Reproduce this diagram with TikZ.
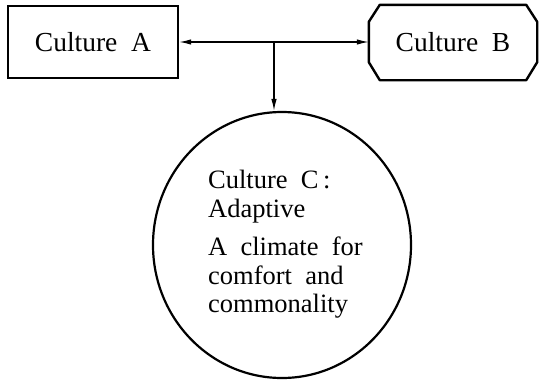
\documentclass[tikz,border=0pt]{standalone}
\usepackage{fontspec}
\setmainfont{Liberation Serif}
\usetikzlibrary{arrows.meta,shapes.geometric}
\begin{document}
\begin{tikzpicture}[x=1pt,y=-1pt,
  boxline/.style={line width=2.4pt},
  conn/.style={line width=1.3pt,-{Latex[length=12pt,width=5.5pt]}},
  lbl/.style={font=\fontsize{27.5}{30}\selectfont},
  clbl/.style={font=\fontsize{26.5}{28.5}\selectfont}
]
\useasboundingbox (0,0) rectangle (540,380);
% Culture A
\node[boxline,draw,rectangle,minimum width=170pt,minimum height=72pt,lbl] (A) at (93,42) {Culture\ \ A};
% Culture B (octagon drawn from an invisible rectangle)
\node[minimum width=168pt,minimum height=75pt,inner sep=0pt,lbl] (B) at (453,42.5) {Culture\ \ B};
\draw[boxline,line join=round]
  ([xshift=11pt]B.north west) -- ([xshift=-11pt]B.north east)
  -- ([yshift=-17pt]B.north east) -- ([yshift=18pt]B.south east)
  -- ([xshift=-11pt]B.south east) -- ([xshift=11pt]B.south west)
  -- ([yshift=18pt]B.south west) -- ([yshift=-17pt]B.north west) -- cycle;
% Culture C
\node[draw,ellipse,line width=2.2pt,minimum width=258pt,minimum height=266pt,inner sep=0pt] (C) at (282,245) {};
\node[clbl,anchor=north west,align=left,inner sep=0pt] (Ct) at (208,170)
  {Culture\ \ C\,:\\ Adaptive\\[10pt] A\ \ climate\ \ for\\ comfort\ \ and\\ commonality};
% connectors
\coordinate (j) at (274,42);
\draw[conn] (j) -- (A.east);
\draw[conn] (j) -- ([yshift=0.5pt]B.west);
\draw[conn] (j) -- (j |- C.north);
\end{tikzpicture}
\end{document}
